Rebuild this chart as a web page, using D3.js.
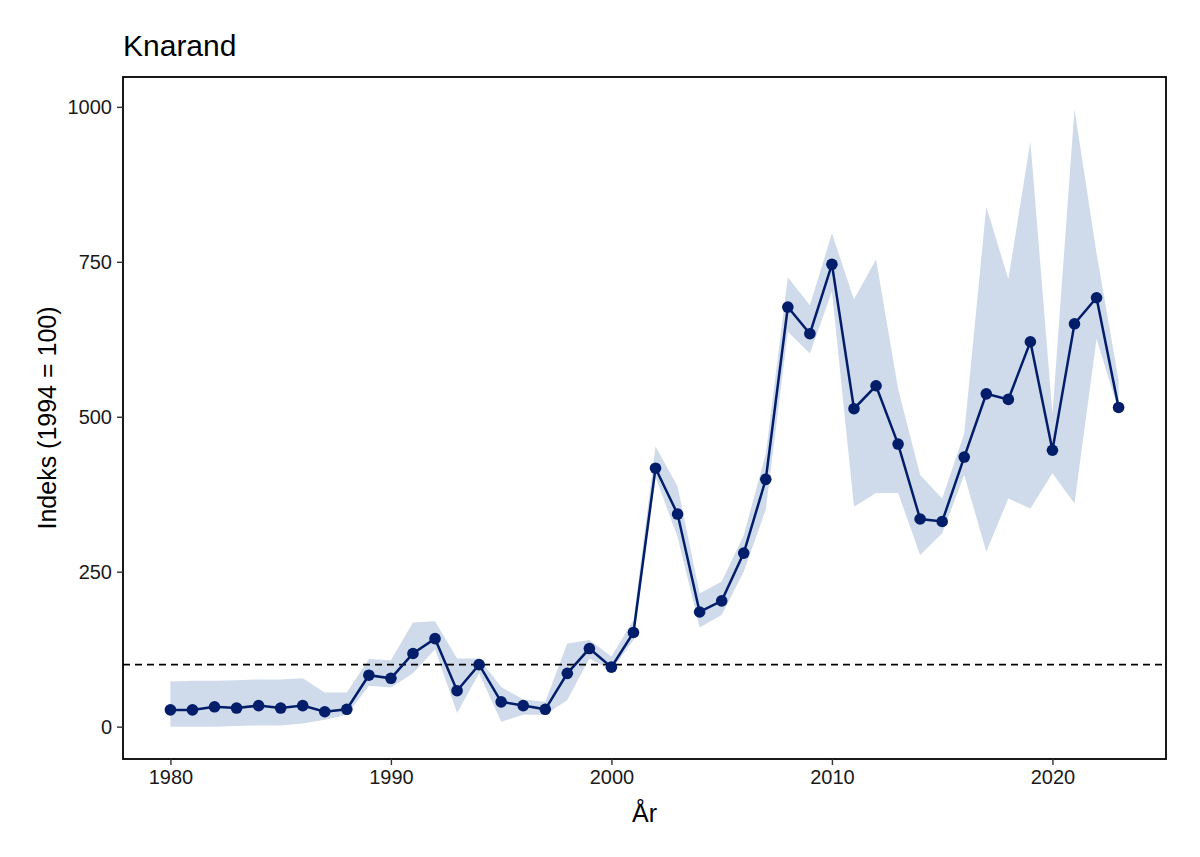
<!DOCTYPE html>
<html><head><meta charset="utf-8">
<script src="https://cdn.jsdelivr.net/npm/d3@7"></script>
<style>body{margin:0;background:#fff;} svg{display:block;} text{font-family:"Liberation Sans",Arial,sans-serif;}</style>
</head><body>
<script>
const years = d3.range(1980, 2024);
const indexValues = [27,27,32,30,34,30,34,24,28,83,78,118,142,58,100,40,34,28,86,126,96,152,417,343,185,203,280,399,677,634,746,513,550,456,335,331,435,537,528,621,446,650,692,515];
const upperValues = [73,74,74,75,76,76,78,55,55,109,107,168,170,110,110,64,44,40,134,140,113,172,452,388,215,234,309,440,725,680,796,689,754,545,406,368,473,839,722,944,505,996,764,559];
const lowerValues = [0,0,0,1,2,2,5,11,19,66,63,86,125,22,86,8,19,19,43,110,91,140,403,306,160,180,250,350,637,602,702,355,377,377,277,312,406,282,368,352,409,360,626,510];
const xTicks = [1980,1990,2000,2010,2020];
const yTicks = [0,250,500,750,1000];
const refValue = 100;
const title = "Knarand";
const xTitle = "År";
const yTitle = "Indeks (1994 = 100)";

const W = 1200, H = 857;
const L = 123, R = 1166, T = 77, B = 759;
const svg = d3.select("body").append("svg").attr("width", W).attr("height", H);

const x = d3.scaleLinear().domain([1977.85, 2025.15]).range([L, R]);
const y = d3.scaleLinear().domain([-52.2, 1048.2]).range([B, T]);

const data = years.map((yr, i) => ({yr, v: indexValues[i], lo: lowerValues[i], hi: upperValues[i]}));

svg.append("path").datum(data)
  .attr("fill", "#cfdbea")
  .attr("d", d3.area().x(d => x(d.yr)).y0(d => y(d.lo)).y1(d => y(d.hi)));

svg.append("line").attr("x1", L).attr("x2", R).attr("y1", y(refValue)).attr("y2", y(refValue))
  .attr("stroke", "#000").attr("stroke-width", 1.7).attr("stroke-dasharray", "7,5");

svg.append("path").datum(data)
  .attr("fill", "none").attr("stroke", "#021d6a").attr("stroke-width", 2.5)
  .attr("d", d3.line().x(d => x(d.yr)).y(d => y(d.v)));

svg.selectAll("circle.pt").data(data).join("circle").attr("class", "pt")
  .attr("cx", d => x(d.yr)).attr("cy", d => y(d.v)).attr("r", 5.8).attr("fill", "#021d6a");

// panel border
svg.append("rect").attr("x", L).attr("y", T).attr("width", R - L).attr("height", B - T)
  .attr("fill", "none").attr("stroke", "#000").attr("stroke-width", 1.8);

// axes
const xAxis = svg.append("g").attr("transform", `translate(0,${B})`)
  .call(d3.axisBottom(x).tickValues(xTicks).tickFormat(d3.format("d")).tickSize(6).tickPadding(5));
const yAxis = svg.append("g").attr("transform", `translate(${L},0)`)
  .call(d3.axisLeft(y).tickValues(yTicks).tickFormat(d3.format("d")).tickSize(6).tickPadding(5));
[xAxis, yAxis].forEach(g => {
  g.select(".domain").remove();
  g.selectAll(".tick line").attr("stroke", "#333").attr("stroke-width", 1.4);
  g.selectAll(".tick text").attr("fill", "#1a1a1a").style("font-size", "20px");
});
yAxis.selectAll(".tick text").attr("dy", "0.35em");

svg.append("text").attr("x", L).attr("y", 56).text(title).style("font-size", "30px").attr("fill", "#000");
svg.append("text").attr("x", (L + R) / 2).attr("y", 822).attr("text-anchor", "middle").text(xTitle).style("font-size", "25px");
svg.append("text").attr("transform", `translate(56,${(T + B) / 2}) rotate(-90)`).attr("text-anchor", "middle").text(yTitle).style("font-size", "25px");
</script>
</body></html>
